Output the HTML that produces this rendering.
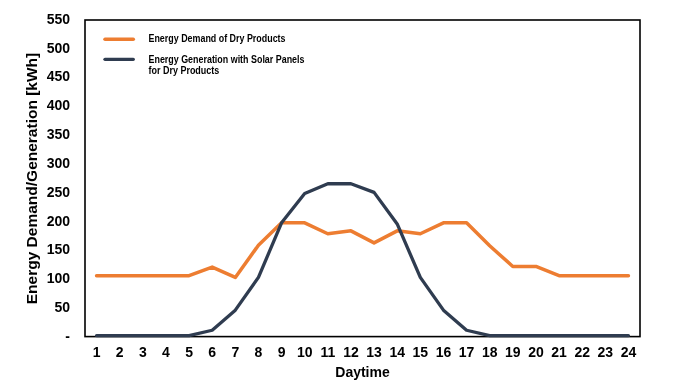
<!DOCTYPE html>
<html><head><meta charset="utf-8"><style>
html,body{margin:0;padding:0;background:#fff;width:681px;height:392px;overflow:hidden}
svg{display:block;will-change:transform;font-family:"Liberation Sans", sans-serif}
</style></head><body>
<svg width="681" height="392" viewBox="0 0 681 392">
<rect x="85" y="20" width="555" height="316.6" fill="none" stroke="#000" stroke-width="1.6"/>
<polyline points="96.56,275.67 119.69,275.67 142.81,275.67 165.94,275.67 189.06,275.67 212.19,267.05 235.31,277.40 258.44,245.22 281.56,222.81 304.69,222.81 327.81,233.73 350.94,230.86 374.06,242.92 397.19,230.86 420.31,233.73 443.44,222.81 466.56,222.81 489.69,245.80 512.81,266.48 535.94,266.48 559.06,275.67 582.19,275.67 605.31,275.67 628.44,275.67" fill="none" stroke="#ED7D31" stroke-width="3.5" stroke-linejoin="round" stroke-linecap="round"/>
<polyline points="96.56,335.54 119.69,335.54 142.81,335.54 165.94,335.54 189.06,335.54 212.19,330.25 235.31,310.15 258.44,277.40 281.56,222.81 304.69,193.51 327.81,183.75 350.94,183.75 374.06,192.36 397.19,223.96 420.31,277.40 443.44,310.15 466.56,330.25 489.69,335.54 512.81,335.54 535.94,335.54 559.06,335.54 582.19,335.54 605.31,335.54 628.44,335.54" fill="none" stroke="#2F3C50" stroke-width="3.3" stroke-linejoin="round" stroke-linecap="round"/>
<text x="70" y="340.93" text-anchor="end" font-size="14" font-weight="bold">-</text>
<text x="70" y="312.10" text-anchor="end" font-size="14" font-weight="bold">50</text>
<text x="70" y="283.27" text-anchor="end" font-size="14" font-weight="bold">100</text>
<text x="70" y="254.44" text-anchor="end" font-size="14" font-weight="bold">150</text>
<text x="70" y="225.61" text-anchor="end" font-size="14" font-weight="bold">200</text>
<text x="70" y="196.78" text-anchor="end" font-size="14" font-weight="bold">250</text>
<text x="70" y="167.95" text-anchor="end" font-size="14" font-weight="bold">300</text>
<text x="70" y="139.12" text-anchor="end" font-size="14" font-weight="bold">350</text>
<text x="70" y="110.29" text-anchor="end" font-size="14" font-weight="bold">400</text>
<text x="70" y="81.46" text-anchor="end" font-size="14" font-weight="bold">450</text>
<text x="70" y="52.63" text-anchor="end" font-size="14" font-weight="bold">500</text>
<text x="70" y="23.80" text-anchor="end" font-size="14" font-weight="bold">550</text>
<text x="96.56" y="357" text-anchor="middle" font-size="14" font-weight="bold">1</text>
<text x="119.69" y="357" text-anchor="middle" font-size="14" font-weight="bold">2</text>
<text x="142.81" y="357" text-anchor="middle" font-size="14" font-weight="bold">3</text>
<text x="165.94" y="357" text-anchor="middle" font-size="14" font-weight="bold">4</text>
<text x="189.06" y="357" text-anchor="middle" font-size="14" font-weight="bold">5</text>
<text x="212.19" y="357" text-anchor="middle" font-size="14" font-weight="bold">6</text>
<text x="235.31" y="357" text-anchor="middle" font-size="14" font-weight="bold">7</text>
<text x="258.44" y="357" text-anchor="middle" font-size="14" font-weight="bold">8</text>
<text x="281.56" y="357" text-anchor="middle" font-size="14" font-weight="bold">9</text>
<text x="304.69" y="357" text-anchor="middle" font-size="14" font-weight="bold">10</text>
<text x="327.81" y="357" text-anchor="middle" font-size="14" font-weight="bold">11</text>
<text x="350.94" y="357" text-anchor="middle" font-size="14" font-weight="bold">12</text>
<text x="374.06" y="357" text-anchor="middle" font-size="14" font-weight="bold">13</text>
<text x="397.19" y="357" text-anchor="middle" font-size="14" font-weight="bold">14</text>
<text x="420.31" y="357" text-anchor="middle" font-size="14" font-weight="bold">15</text>
<text x="443.44" y="357" text-anchor="middle" font-size="14" font-weight="bold">16</text>
<text x="466.56" y="357" text-anchor="middle" font-size="14" font-weight="bold">17</text>
<text x="489.69" y="357" text-anchor="middle" font-size="14" font-weight="bold">18</text>
<text x="512.81" y="357" text-anchor="middle" font-size="14" font-weight="bold">19</text>
<text x="535.94" y="357" text-anchor="middle" font-size="14" font-weight="bold">20</text>
<text x="559.06" y="357" text-anchor="middle" font-size="14" font-weight="bold">21</text>
<text x="582.19" y="357" text-anchor="middle" font-size="14" font-weight="bold">22</text>
<text x="605.31" y="357" text-anchor="middle" font-size="14" font-weight="bold">23</text>
<text x="628.44" y="357" text-anchor="middle" font-size="14" font-weight="bold">24</text>
<text x="362.5" y="377" text-anchor="middle" font-size="14" font-weight="bold">Daytime</text>
<text transform="translate(36.5,178.5) rotate(-90)" text-anchor="middle" font-size="15.5" font-weight="bold">Energy Demand/Generation [kWh]</text>
<line x1="105" y1="39.2" x2="133.3" y2="39.2" stroke="#ED7D31" stroke-width="3.5" stroke-linecap="round"/>
<line x1="105" y1="59.3" x2="133.3" y2="59.3" stroke="#2F3C50" stroke-width="3.3" stroke-linecap="round"/>
<text x="148.5" y="42" font-size="10" font-weight="bold" textLength="137" lengthAdjust="spacingAndGlyphs">Energy Demand of Dry Products</text>
<text x="148.5" y="62.5" font-size="10" font-weight="bold" textLength="156" lengthAdjust="spacingAndGlyphs">Energy Generation with Solar Panels</text>
<text x="148.5" y="73.8" font-size="10" font-weight="bold" textLength="70.8" lengthAdjust="spacingAndGlyphs">for Dry Products</text>
</svg></body></html>
